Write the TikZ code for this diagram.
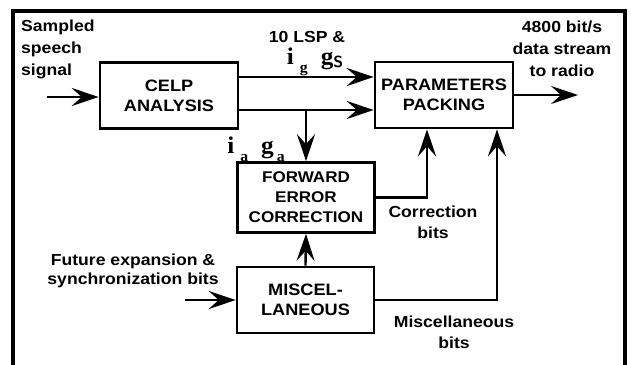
\documentclass[tikz,border=0pt]{standalone}
\usepackage[no-math]{fontspec}
\setmainfont{Liberation Sans}[FakeStretch=1.1]
\newfontfamily\symfont{Liberation Serif}[FakeStretch=1.05]
\usepackage{tikz}
\usetikzlibrary{arrows.meta,calc}
\newcommand{\sbl}[1]{\raisebox{-8pt}{\fontsize{15}{15}\selectfont #1}}

\begin{document}
\begin{tikzpicture}[x=1pt,y=-1pt,
    blk/.style={draw,line width=2.6pt,minimum width=138pt,minimum height=66pt,
      align=center,inner sep=0pt,font=\bfseries\fontsize{16.5}{20}\selectfont},
    lbl/.style={align=center,inner sep=0pt,font=\bfseries\fontsize{16}{22}\selectfont},
    mlbl/.style={inner sep=0pt,font=\symfont\bfseries\fontsize{24}{26}\selectfont},
    arr/.style={line width=2.4pt,-{Stealth[length=27pt,width=18pt,inset=10pt]}},
    wire/.style={line width=2.4pt}]
    \useasboundingbox (0,0) rectangle (631,364);
    \clip (0,0) rectangle (631,364);
    \draw[line width=3.4pt] (13,11) rectangle (625,390);
    % blocks
    \node[blk] (celp) at (169,95.5) {CELP\\ANALYSIS};
    \node[blk] (pp) at (444,95) {PARAMETERS\\PACKING};
    \node[blk,minimum width=137pt,minimum height=70pt,font=\bfseries\fontsize{15.5}{20}\selectfont] (fec) at (306,197.5) {FORWARD\\ERROR\\CORRECTION};
    \node[blk,minimum width=137pt] (misc) at (305.5,300) {MISCEL-\\LANEOUS};
    % labels
    \node[lbl,align=left,anchor=west] (sampled) at (21,49) {Sampled\\speech\\signal};
    \node[lbl] (rate) at (562,49) {4800 bit/s\\data stream\\to radio};
    \node[lbl] (lsp) at (307,37) {10 LSP \&};
    \node[mlbl] (igs) at (315,62) {i\hspace{6pt}\sbl{g}\hspace{13pt}g\raisebox{-3pt}{\sffamily\fontsize{16}{16}\selectfont S}};
    \node[mlbl] (iga) at (256,149) {i\hspace{6pt}\sbl{a}\hspace{13pt}g\hspace{3pt}\sbl{a}};
    \node[lbl,font=\bfseries\fontsize{16}{21}\selectfont] (corr) at (433,222) {Correction\\bits};
    \node[lbl,font=\bfseries\fontsize{16}{21}\selectfont] (miscb) at (454,332) {Miscellaneous\\bits};
    \node[lbl,font=\bfseries\fontsize{16}{19}\selectfont] (future) at (133,271) {Future expansion \&\\synchronization bits};
    % free ends
    \coordinate (src) at (47,97);
    \coordinate (fut) at (185,300);
    \coordinate (radio) at (578,95);
    \coordinate (tap) at ([yshift=-14.5pt]celp.east);
    % connectors
    \draw[arr] (src) -- (src -| celp.west);
    \draw[arr] ([yshift=18.5pt]celp.east) -- ([yshift=18pt]pp.west);
    \draw[arr] (tap) -- ([yshift=-15pt]pp.west);
    \draw[arr] (fec.north |- tap) -- (fec.north);
    \draw[arr] (misc.north) -- (fec.south);
    \draw[arr] (fut) -- (fut -| misc.west);
    \draw[arr] (fec.east) -| ([xshift=-17pt]pp.south);
    \draw[arr] (misc.east) -| ([xshift=53pt]pp.south);
    \draw[arr] (pp.east) -- (radio);
\end{tikzpicture}
\end{document}
